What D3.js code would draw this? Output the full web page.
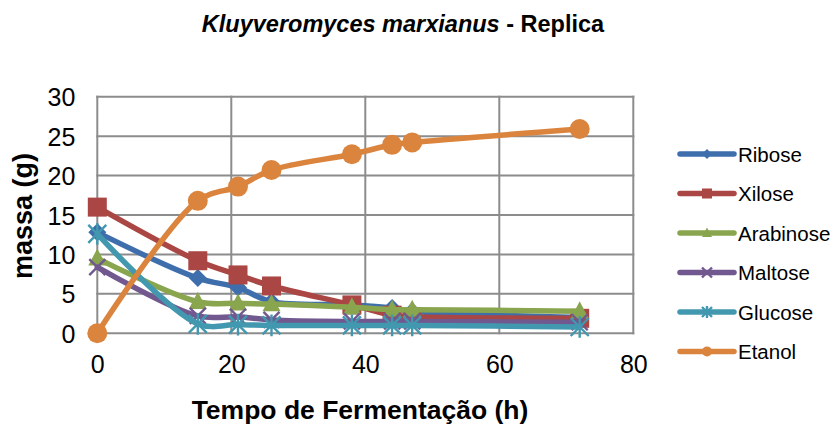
<!DOCTYPE html>
<html>
<head>
<meta charset="utf-8">
<script src="https://cdn.jsdelivr.net/npm/d3@7"></script>
<style>
  body { margin: 0; background: #fff; }
  svg { display: block; font-family: "Liberation Sans", Arial, sans-serif; }
</style>
</head>
<body>
<svg id="chart" width="838" height="424"></svg>
<script>
// ==============================
// DATA
// ==============================
const hours = [0, 15, 21, 26, 38, 44, 47, 72];
const ribose    = [12.8, 7.0, 5.8, 4.0, 3.6, 3.2, 2.8, 2.0];
const xilose    = [16.0, 9.2, 7.4, 6.0, 3.6, 2.3, 2.1, 1.9];
const arabinose = [9.5, 4.0, 3.8, 3.7, 3.3, 3.0, 3.0, 2.8];
const maltose   = [8.4, 2.2, 2.1, 1.7, 1.5, 1.5, 1.5, 1.4];
const glucose   = [12.6, 1.2, 1.1, 1.0, 1.0, 1.0, 1.0, 0.8];
const etanol    = [0, 16.8, 18.6, 20.7, 22.7, 23.9, 24.2, 25.9];
const seriesNames = ["Ribose", "Xilose", "Arabinose", "Maltose", "Glucose", "Etanol"];
const xTicks = [0, 20, 40, 60, 80];
const yTicks = [0, 5, 10, 15, 20, 25, 30];

const colors = ["#3E6EAC", "#AA4643", "#89A54E", "#71588F", "#4198AF", "#DB843D"];
const markers = ["diamond", "square", "triangle", "x", "asterisk", "circle"];
const allValues = [ribose, xilose, arabinose, maltose, glucose, etanol];

// ==============================
// LAYOUT
// ==============================
const svg = d3.select("#chart");
const plot = { left: 97.3, right: 633.3, top: 96.7, bottom: 333.3 };

const x = d3.scaleLinear().domain([0, 80]).range([plot.left, plot.right]);
const y = d3.scaleLinear().domain([0, 30]).range([plot.bottom, plot.top]);

// gridlines
const grid = svg.append("g").attr("stroke", "#8c8c8c").attr("stroke-width", 2);
grid.selectAll(".hg").data(yTicks).enter().append("line")
  .attr("x1", plot.left - 1).attr("x2", plot.right + 1)
  .attr("y1", d => y(d)).attr("y2", d => y(d));
grid.selectAll(".vg").data(xTicks).enter().append("line")
  .attr("y1", plot.top - 1).attr("y2", plot.bottom + 1)
  .attr("x1", d => x(d)).attr("x2", d => x(d));

// axes
const xAxis = svg.append("g")
  .attr("transform", `translate(0,${plot.bottom})`)
  .call(d3.axisBottom(x).tickValues(xTicks).tickSize(0).tickPadding(22));
const yAxis = svg.append("g")
  .attr("transform", `translate(${plot.left},0)`)
  .call(d3.axisLeft(y).tickValues(yTicks).tickSize(0).tickPadding(22));
[xAxis, yAxis].forEach(a => {
  a.select(".domain").remove();
  a.selectAll("text").attr("font-size", 25).attr("fill", "#000")
    .attr("font-family", "'Liberation Sans', Arial, sans-serif");
});
yAxis.selectAll("text").attr("dy", "0.36em");
xAxis.selectAll("text").attr("dy", "0.72em");

// ==============================
// SERIES
// ==============================
const line = d3.line()
  .x(d => x(d.h))
  .y(d => y(d.v))
  .curve(d3.curveCatmullRom.alpha(0.5));

function drawMarker(g, type, cx, cy, color, s) {
  if (type === "diamond") {
    g.append("path").attr("d", `M${cx},${cy - s}L${cx + s},${cy}L${cx},${cy + s}L${cx - s},${cy}Z`).attr("fill", color);
  } else if (type === "square") {
    g.append("rect").attr("x", cx - s).attr("y", cy - s).attr("width", 2 * s).attr("height", 2 * s).attr("fill", color);
  } else if (type === "triangle") {
    g.append("path").attr("d", `M${cx},${cy - s * 1.1}L${cx + s},${cy + s * 0.8}L${cx - s},${cy + s * 0.8}Z`).attr("fill", color);
  } else if (type === "x") {
    g.append("path").attr("d", `M${cx - s},${cy - s}L${cx + s},${cy + s}M${cx - s},${cy + s}L${cx + s},${cy - s}`)
      .attr("stroke", color).attr("stroke-width", 2.4);
  } else if (type === "asterisk") {
    g.append("path").attr("d", `M${cx - s},${cy - s}L${cx + s},${cy + s}M${cx - s},${cy + s}L${cx + s},${cy - s}M${cx},${cy - s * 1.2}L${cx},${cy + s * 1.2}`)
      .attr("stroke", color).attr("stroke-width", 2.4);
  } else {
    g.append("circle").attr("cx", cx).attr("cy", cy).attr("r", s).attr("fill", color);
  }
}

const markerSize = [9, 9.5, 9, 8, 9, 10];

allValues.forEach((vals, i) => {
  const pts = hours.map((h, j) => ({ h, v: vals[j] }));
  const g = svg.append("g");
  g.append("path").datum(pts)
    .attr("d", line)
    .attr("fill", "none")
    .attr("stroke", colors[i])
    .attr("stroke-width", 5.5)
    .attr("stroke-linejoin", "round")
    .attr("stroke-linecap", "round");
  pts.forEach(p => drawMarker(g, markers[i], x(p.h), y(p.v), colors[i], markerSize[i]));
});

// ==============================
// LEGEND
// ==============================
const legend = svg.append("g");
seriesNames.forEach((name, i) => {
  const ly = 154 + i * 39.5;
  const g = legend.append("g");
  g.append("line").attr("x1", 680).attr("x2", 734).attr("y1", ly).attr("y2", ly)
    .attr("stroke", colors[i]).attr("stroke-width", 5.5).attr("stroke-linecap", "round");
  drawMarker(g, markers[i], 707, ly, colors[i], 5);
  g.append("text").attr("x", 738).attr("y", ly + 7.5).attr("font-size", 20.5).text(name);
});

// ==============================
// TITLES
// ==============================
const title = svg.append("text").attr("x", 403).attr("y", 32)
  .attr("text-anchor", "middle").attr("font-size", 23.5).attr("font-weight", "bold");
title.append("tspan").attr("font-style", "italic").text("Kluyveromyces marxianus");
title.append("tspan").text(" - Replica");

svg.append("text").attr("x", 360).attr("y", 419)
  .attr("text-anchor", "middle").attr("font-size", 26.5).attr("font-weight", "bold")
  .text("Tempo de Fermentação (h)");

svg.append("text").attr("transform", "translate(32,216) rotate(-90)")
  .attr("text-anchor", "middle").attr("font-size", 27).attr("font-weight", "bold")
  .text("massa (g)");
</script>
</body>
</html>
